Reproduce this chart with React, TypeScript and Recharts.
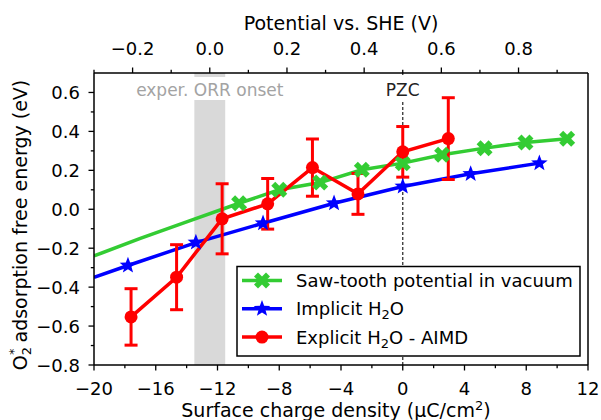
import React from "react";
import { LineChart, Line, XAxis, YAxis, ErrorBar, ReferenceArea, ReferenceLine } from "recharts";

// surface charge density (µC/cm²) vs O2* adsorption free energy (eV)
const sawToothSigma = [-10.6, -8.0, -5.35, -2.65, 0.0, 2.55, 5.3, 7.95, 10.65];
const sawToothEnergy = [0.031, 0.1, 0.137, 0.203, 0.237, 0.28, 0.314, 0.343, 0.362];
// fitted curve continued to the left (no markers there)
const sawToothFitSigma = [-20, -17, -14];
const sawToothFitEnergy = [-0.24, -0.15, -0.065];

const implicitSigma = [-17.8, -13.4, -9.05, -4.45, 0.0, 4.4, 8.85];
const implicitEnergy = [-0.289, -0.171, -0.072, 0.031, 0.117, 0.182, 0.237];
const implicitFitSigma = [-20];
const implicitFitEnergy = [-0.35];

const explicitSigma = [-17.6, -14.65, -11.7, -8.75, -5.85, -2.9, 0.0, 2.95];
const explicitEnergy = [-0.553, -0.349, -0.049, 0.028, 0.214, 0.079, 0.295, 0.363];
const explicitError = [0.145, 0.167, 0.18, 0.13, 0.147, 0.105, 0.13, 0.21];

const onsetRange = [-13.5, -11.5];
const pzcSigma = 0;

// axes
const sigmaDomain = [-20, 12];
const sigmaMajor = [-20, -16, -12, -8, -4, 0, 4, 8, 12];
const sigmaMinor = [-18, -14, -10, -6, -2, 2, 6, 10];
const energyDomain = [-0.8, 0.7];
const energyMajor = [-0.8, -0.6, -0.4, -0.2, 0, 0.2, 0.4, 0.6];
const energyMinor = [-0.7, -0.5, -0.3, -0.1, 0.1, 0.3, 0.5];
const pzcPotential = 0.5; // V vs SHE at sigma = 0
const voltsPerCharge = 0.04;
const potentialMajor = [-0.2, 0, 0.2, 0.4, 0.6, 0.8];
const potentialMinor = [-0.3, -0.1, 0.1, 0.3, 0.5, 0.7, 0.9];
const potentialDomain = sigmaDomain.map((s) => +(pzcPotential + s * voltsPerCharge).toFixed(4));

const FONT = "DejaVu Sans, sans-serif";
const GREEN = "#33cc33";
const BLUE = "#0000ff";
const RED = "#ff0000";

const sawData = [
  ...sawToothFitSigma.map((s, i) => ({ s, e: sawToothFitEnergy[i], m: false })),
  ...sawToothSigma.map((s, i) => ({ s, e: sawToothEnergy[i], m: true })),
];
const implicitData = [
  ...implicitFitSigma.map((s, i) => ({ s, e: implicitFitEnergy[i], m: false })),
  ...implicitSigma.map((s, i) => ({ s, e: implicitEnergy[i], m: true })),
];
const explicitData = explicitSigma.map((s, i) => ({ s, e: explicitEnergy[i], err: explicitError[i] }));
// empty series so the top (potential) axis has something attached to it
const potentialData = potentialDomain.map((p) => ({ p, e: null }));

const fmt = (v: number, digits: number) => {
  const t = Math.abs(v).toFixed(digits);
  return v < 0 && Number(t) !== 0 ? "\u2212" + t : t;
};

// markers, shaped like matplotlib's 'X', '*' and 'o'
const XShape = ({ cx, cy, size = 16, fill }: any) => {
  const pts = [
    [-1, -2], [0, -1], [1, -2], [2, -1], [1, 0], [2, 1],
    [1, 2], [0, 1], [-1, 2], [-2, 1], [-1, 0], [-2, -1],
  ].map(([a, b]) => `${cx + (a * size) / 4},${cy + (b * size) / 4}`).join(" ");
  return <polygon points={pts} fill={fill} />;
};

const StarShape = ({ cx, cy, r = 8.7, fill }: any) => {
  const pts: string[] = [];
  for (let i = 0; i < 10; i++) {
    const rad = i % 2 === 0 ? r : r * 0.42;
    const a = -Math.PI / 2 + (i * Math.PI) / 5;
    pts.push(`${cx + rad * Math.cos(a)},${cy + rad * Math.sin(a)}`);
  }
  return <polygon points={pts.join(" ")} fill={fill} />;
};

const sawDot = (p: any) =>
  p.payload.m ? <XShape key={p.index} cx={p.cx} cy={p.cy} fill={GREEN} /> : <g key={p.index} />;
const implicitDot = (p: any) =>
  p.payload.m ? <StarShape key={p.index} cx={p.cx} cy={p.cy} fill={BLUE} /> : <g key={p.index} />;
const explicitDot = (p: any) => <circle key={p.index} cx={p.cx} cy={p.cy} r={6.5} fill={RED} />;

// ticks with minor marks
const BottomTick = (props: any) => {
  const { x, y, payload } = props;
  const major = sigmaMajor.includes(payload.value);
  return (
    <g>
      <line x1={x} y1={y} x2={x} y2={y + (major ? 5.5 : 3.2)} stroke="#000" strokeWidth={1.3} />
      {major && (
        <text x={x} y={y + 30} textAnchor="middle" fontSize={18} fontFamily={FONT} fill="#000">
          {fmt(payload.value, 0)}
        </text>
      )}
    </g>
  );
};

const TopTick = (props: any) => {
  const { x, y, payload } = props;
  const major = potentialMajor.includes(payload.value);
  return (
    <g>
      <line x1={x} y1={y} x2={x} y2={y - (major ? 5.5 : 3.2)} stroke="#000" strokeWidth={1.3} />
      {major && (
        <text x={x} y={y - 18} textAnchor="middle" fontSize={18} fontFamily={FONT} fill="#000">
          {fmt(payload.value, 1)}
        </text>
      )}
    </g>
  );
};

const LeftTick = (props: any) => {
  const { x, y, payload } = props;
  const major = energyMajor.includes(payload.value);
  return (
    <g>
      <line x1={x - (major ? 5.5 : 3.2)} y1={y} x2={x} y2={y} stroke="#000" strokeWidth={1.3} />
      {major && (
        <text x={x - 14} y={y + 6.5} textAnchor="end" fontSize={18} fontFamily={FONT} fill="#000">
          {fmt(payload.value, 1)}
        </text>
      )}
    </g>
  );
};

const OnsetLabel = (props: any) => {
  const { x, y, width } = props.viewBox;
  const cx = x + width / 2;
  return (
    <g>
      <rect x={x - 1} y={y + 4} width={width + 2} height={23} fill="#fff" />
      <text x={cx} y={y + 23} textAnchor="middle" fontSize={17} fontFamily={FONT} fill="#a3a3a3">
        exper. ORR onset
      </text>
    </g>
  );
};

const PzcLabel = (props: any) => {
  const { x, y } = props.viewBox;
  return (
    <g>
      <rect x={x - 3} y={y + 4} width={6} height={23} fill="#fff" />
      <text x={x} y={y + 22.5} textAnchor="middle" fontSize={17} fontFamily={FONT} fill="#222">
        PZC
      </text>
    </g>
  );
};

const legendRows = [
  { color: GREEN, kind: "x" },
  { color: BLUE, kind: "star" },
  { color: RED, kind: "circle" },
];

const Overlay = () => (
  <svg width={601} height={420} style={{ position: "absolute", left: 0, top: 0, pointerEvents: "none" }} fontFamily={FONT}>
    <text x={341} y={29.5} textAnchor="middle" fontSize={19} fill="#000">
      Potential vs. SHE (V)
    </text>
    <text x={336} y={417} textAnchor="middle" fontSize={19} fill="#000">
      Surface charge density (μC/cm<tspan dy={-7} fontSize={13}>2</tspan>
      <tspan dy={7}>)</tspan>
    </text>
    <text transform="rotate(-90 27 225)" x={27} y={225} textAnchor="middle" fontSize={19} fill="#000">
      O<tspan dy={4} fontSize={13}>2</tspan>
      <tspan dx={-8} dy={-13} fontSize={13}>*</tspan>
      <tspan dy={9}> adsorption free energy (eV)</tspan>
    </text>

    <rect x={237} y={266.5} width={343} height={89.5} fill="#fff" stroke="#000" strokeWidth={1.5} />
    {legendRows.map((row, i) => {
      const cy = 280.5 + i * 28.3;
      return (
        <g key={i}>
          <line x1={242} y1={cy} x2={282} y2={cy} stroke={row.color} strokeWidth={3.5} />
          {row.kind === "x" && <XShape cx={262} cy={cy} fill={row.color} />}
          {row.kind === "star" && <StarShape cx={262} cy={cy} fill={row.color} />}
          {row.kind === "circle" && <circle cx={262} cy={cy} r={6.5} fill={row.color} />}
        </g>
      );
    })}
    <text x={296} y={287} fontSize={18} fill="#000">Saw-tooth potential in vacuum</text>
    <text x={296} y={315.3} fontSize={18} fill="#000">
      Implicit H<tspan dy={4} fontSize={13}>2</tspan>
      <tspan dy={-4}>O</tspan>
    </text>
    <text x={296} y={343.6} fontSize={18} fill="#000">
      Explicit H<tspan dy={4} fontSize={13}>2</tspan>
      <tspan dy={-4}>O - AIMD</tspan>
    </text>
  </svg>
);

const axisLine = { stroke: "#000", strokeWidth: 1.5 };

export default function App() {
  return (
    <div style={{ position: "absolute", left: 0, top: 0, width: 601, height: 420, background: "#fff", fontFamily: FONT }}>
      <LineChart width={601} height={420} margin={{ top: 0, right: 0, bottom: 0, left: 0 }}>
        <XAxis
          xAxisId="s"
          dataKey="s"
          type="number"
          domain={sigmaDomain}
          allowDataOverflow
          ticks={[...sigmaMajor, ...sigmaMinor]}
          interval={0}
          tick={<BottomTick />}
          tickLine={false}
          tickSize={0}
          tickMargin={0}
          height={55}
          axisLine={axisLine}
        />
        <XAxis
          xAxisId="p"
          dataKey="p"
          orientation="top"
          type="number"
          domain={potentialDomain}
          allowDataOverflow
          ticks={[...potentialMajor, ...potentialMinor]}
          interval={0}
          tick={<TopTick />}
          tickLine={false}
          tickSize={0}
          tickMargin={0}
          height={73}
          axisLine={axisLine}
        />
        <YAxis
          yAxisId="e"
          type="number"
          domain={energyDomain}
          allowDataOverflow
          ticks={[...energyMajor, ...energyMinor]}
          interval={0}
          tick={<LeftTick />}
          tickLine={false}
          tickSize={0}
          tickMargin={0}
          width={94}
          axisLine={axisLine}
        />
        <YAxis
          yAxisId="r"
          orientation="right"
          type="number"
          domain={energyDomain}
          allowDataOverflow
          tick={false}
          tickLine={false}
          width={13}
          axisLine={axisLine}
        />

        <ReferenceArea
          xAxisId="s"
          yAxisId="e"
          x1={onsetRange[0]}
          x2={onsetRange[1]}
          y1={energyDomain[0]}
          y2={energyDomain[1]}
          fill="#d9d9d9"
          fillOpacity={1}
          stroke="none"
          label={<OnsetLabel />}
        />
        <ReferenceLine
          xAxisId="s"
          yAxisId="e"
          x={pzcSigma}
          stroke="#333"
          strokeWidth={1.3}
          strokeDasharray="3 2"
          label={<PzcLabel />}
        />

        <Line
          xAxisId="p"
          yAxisId="r"
          data={potentialData}
          dataKey="e"
          stroke="none"
          dot={false}
          activeDot={false}
          legendType="none"
          isAnimationActive={false}
        />
        <Line
          xAxisId="s"
          yAxisId="e"
          data={sawData}
          dataKey="e"
          stroke={GREEN}
          strokeWidth={3.5}
          dot={sawDot}
          activeDot={false}
          isAnimationActive={false}
        />
        <Line
          xAxisId="s"
          yAxisId="e"
          data={implicitData}
          dataKey="e"
          stroke={BLUE}
          strokeWidth={3.5}
          dot={implicitDot}
          activeDot={false}
          isAnimationActive={false}
        />
        <Line
          xAxisId="s"
          yAxisId="e"
          data={explicitData}
          dataKey="e"
          stroke={RED}
          strokeWidth={3.5}
          dot={explicitDot}
          activeDot={false}
          isAnimationActive={false}
        >
          <ErrorBar dataKey="err" direction="y" width={6.5} strokeWidth={3} stroke={RED} isAnimationActive={false} />
        </Line>
      </LineChart>
      <Overlay />
    </div>
  );
}
